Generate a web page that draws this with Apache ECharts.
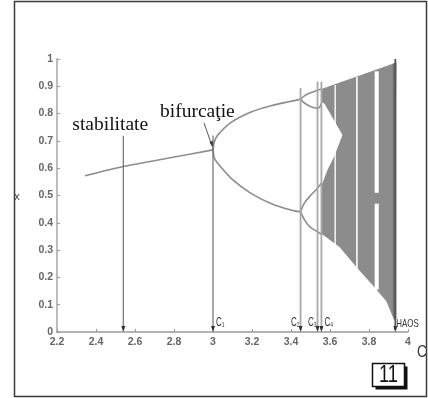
<!DOCTYPE html>
<html>
<head>
<meta charset="utf-8">
<script src="https://cdn.jsdelivr.net/npm/echarts@6/dist/echarts.min.js"></script>
<style>
  html, body { margin: 0; padding: 0; background: #fff; }
  #chart { width: 428px; height: 398px; }
</style>
</head>
<body>
<div id="chart"></div>
<script>
// Bifurcation diagram of the logistic map x -> C·x·(1-x): attractor branches against C.

// Stable fixed point, up to the first doubling
const stableBranch = [[2.343, 0.572], [2.54, 0.606], [2.8, 0.641], [3.0, 0.667]];
// Period-2 branches
const period2Upper = [[3.0, 0.667], [3.007, 0.697], [3.025, 0.722], [3.093, 0.768], [3.195, 0.806], [3.297, 0.829], [3.40, 0.845], [3.449, 0.852]];
const period2Lower = [[3.0, 0.667], [3.007, 0.637], [3.025, 0.617], [3.093, 0.563], [3.195, 0.508], [3.297, 0.471], [3.40, 0.447], [3.449, 0.44]];
// Period-4 loops
const period4A = [[3.449, 0.852], [3.47, 0.866], [3.50, 0.876], [3.53, 0.884], [3.556, 0.89]];
const period4B = [[3.449, 0.852], [3.47, 0.838], [3.50, 0.826], [3.53, 0.82], [3.545, 0.822], [3.556, 0.838]];
const period4C = [[3.449, 0.44], [3.47, 0.474], [3.50, 0.50], [3.53, 0.522], [3.556, 0.545]];
const period4D = [[3.449, 0.44], [3.47, 0.41], [3.50, 0.383], [3.53, 0.37], [3.556, 0.358]];
// Chaotic band: upper envelope then lower envelope
const chaosUpper = [[3.556, 0.89], [3.94, 0.987]];
const chaosLower = [[3.556, 0.358], [3.565, 0.355], [3.65, 0.31], [3.735, 0.238], [3.82, 0.17], [3.889, 0.113], [3.928, 0.045]];
// White gap between the two merging bands
const bandGap = [[3.556, 0.842], [3.571, 0.837], [3.664, 0.722], [3.621, 0.642], [3.587, 0.593], [3.561, 0.545], [3.556, 0.545]];
// Periodic windows inside the chaos: [C from, C to, x from, x to]
const windows = [
  [3.623, 3.630, 0.31, 0.905],
  [3.734, 3.742, 0.19, 0.935],
  [3.829, 3.850, 0.155, 0.47],
  [3.829, 3.850, 0.51, 0.955]
];
// Dense strip at the end of the diagram
const chaosEdge = [[3.922, 0.983], [3.94, 0.987], [3.94, 0.05], [3.928, 0.045], [3.922, 0.08]];
// Vertical markers: [C, top of line]
const pointerMarks = [[2.54, 0.719], [3.0, 0.72]];
const criticalMarks = [[3.449, 0.894], [3.536, 0.917], [3.556, 0.917]];
const chaosMark = [[3.935, 1.0]];
const criticalNames = ['C{s|1}', 'C{s|2}', 'C{s|3}', 'C{s|4}', 'HAOS'];
const xTicks = { min: 2.2, max: 4, step: 0.2 };
const yTicks = { min: 0, max: 1, step: 0.1 };

const chart = echarts.init(document.getElementById('chart'), null, { renderer: 'canvas' });

function branch(points) {
  return {
    type: 'line', data: points, smooth: 0.3, showSymbol: false, silent: true, z: 4,
    lineStyle: { color: '#8d8d8d', width: 1.6 }
  };
}

function polygon(points, fill, z) {
  return {
    type: 'custom', coordinateSystem: 'cartesian2d', silent: true, z: z,
    data: [points[0]],
    renderItem: (params, api) => ({
      type: 'polygon',
      shape: { points: points.map(p => api.coord(p)) },
      style: { fill: fill }
    })
  };
}

function markers(list, color, width, z) {
  return {
    type: 'custom', coordinateSystem: 'cartesian2d', silent: true, z: z,
    data: list,
    renderItem: (params, api) => {
      const c = api.value(0);
      const top = api.coord([c, api.value(1)]);
      const bot = api.coord([c, 0]);
      return {
        type: 'group',
        children: [
          { type: 'line', shape: { x1: top[0], y1: top[1], x2: bot[0], y2: bot[1] - 2 },
            style: { stroke: color, lineWidth: width } },
          { type: 'polygon', shape: { points: [[bot[0] - 2, bot[1] - 6], [bot[0] + 2, bot[1] - 6], [bot[0], bot[1]]] },
            style: { fill: '#333' } }
        ]
      };
    }
  };
}

const chaosRing = chaosUpper.concat(chaosLower.slice().reverse());

chart.setOption({
  animation: false,
  backgroundColor: '#fff',
  grid: { left: 57, right: 20, top: 59, bottom: 66, outerBoundsMode: 'none' },
  xAxis: {
    type: 'value', min: xTicks.min, max: xTicks.max, interval: xTicks.step,
    axisLine: { lineStyle: { color: '#9a9a9a', width: 1.5 } },
    axisTick: { inside: true, length: 3, lineStyle: { color: '#9a9a9a' } },
    axisLabel: { color: '#666', fontSize: 10.5, fontWeight: 'bold', fontFamily: 'Liberation Sans', margin: 5,
                 formatter: v => (Math.round(v * 10) / 10).toString() },
    splitLine: { show: false }
  },
  yAxis: {
    type: 'value', min: yTicks.min, max: yTicks.max, interval: yTicks.step,
    axisLine: { show: true, lineStyle: { color: '#bdbdbd', width: 2 } },
    axisTick: { show: true, inside: true, length: 3, lineStyle: { color: '#9a9a9a' } },
    axisLabel: { color: '#666', fontSize: 10.5, fontWeight: 'bold', fontFamily: 'Liberation Sans', margin: 4,
                 formatter: v => (Math.round(v * 10) / 10).toString() },
    splitLine: { show: false }
  },
  series: [
    polygon(chaosRing, '#8c8c8c', 2),
    polygon(chaosEdge, '#6e6e6e', 3),
    polygon(bandGap, '#ffffff', 3),
    {
      type: 'custom', coordinateSystem: 'cartesian2d', silent: true, z: 3,
      data: windows, encode: { x: [0, 1], y: [2, 3] },
      renderItem: (params, api) => {
        const a = api.coord([api.value(0), api.value(3)]);
        const b = api.coord([api.value(1), api.value(2)]);
        return { type: 'rect', shape: { x: a[0], y: a[1], width: b[0] - a[0], height: b[1] - a[1] },
                 style: { fill: '#ffffff' } };
      }
    },
    branch(stableBranch),
    branch(period2Upper),
    branch(period2Lower),
    branch(period4A),
    branch(period4B),
    branch(period4C),
    branch(period4D),
    markers(pointerMarks, '#707070', 1.2, 5),
    markers(criticalMarks, '#a8a8a8', 1.8, 5),
    markers(chaosMark, '#555555', 1.8, 5)
  ]
});

// Text annotations anchored at data positions
const px = (c, x) => chart.convertToPixel({ gridIndex: 0 }, [c, x]);
const labelAnchors = [
  { at: 3.0, dx: 3, align: 'left' },
  { at: 3.449, dx: -1, align: 'right' },
  { at: 3.536, dx: -1, align: 'right' },
  { at: 3.556, dx: 3, align: 'left' },
  { at: 3.935, dx: 1, align: 'left' }
];
const cRich = { s: { fontSize: 8, fontFamily: 'Liberation Sans', fill: '#333', padding: [6, 0, 0, 0] } };
const graphics = labelAnchors.map((a, i) => {
  const p = px(a.at, 0);
  const isHaos = criticalNames[i] === 'HAOS';
  return {
    type: 'text', x: p[0] + a.dx, y: p[1] - 3, scaleX: isHaos ? 0.72 : 0.62, originX: 0, originY: 0,
    style: {
      text: criticalNames[i], rich: cRich, align: a.align, verticalAlign: 'bottom',
      fontFamily: 'Liberation Sans', fontSize: isHaos ? 11 : 13, fill: '#333'
    }
  };
});

const pStab = px(2.54, 0.719);
const pBif = px(3.0, 0.667);
graphics.push(
  { type: 'rect', shape: { x: 14.5, y: 1.5, width: 412, height: 395 },
    style: { fill: 'none', stroke: '#3a3a3a', lineWidth: 1.5 }, z: 10 },
  { type: 'text', x: 17, y: 197, style: { text: 'x', fontFamily: 'Liberation Sans', fontSize: 11, fill: '#444', align: 'center', verticalAlign: 'middle' }, z: 11 },
  { type: 'text', x: 422, y: 352, scaleX: 0.8, originX: 0, originY: 0,
    style: { text: 'C', fontFamily: 'Liberation Sans', fontSize: 17, fill: '#333', align: 'center', verticalAlign: 'middle' } },
  { type: 'text', x: pStab[0] - 51, y: pStab[1] - 1,
    style: { text: 'stabilitate', fontFamily: 'Liberation Serif', fontSize: 19.5, fill: '#111', align: 'left', verticalAlign: 'bottom' } },
  { type: 'text', x: pBif[0] - 53, y: pBif[1] - 28,
    style: { text: 'bifurcaţie', fontFamily: 'Liberation Serif', fontSize: 19.5, fill: '#111', align: 'left', verticalAlign: 'bottom' } },
  { type: 'line', shape: { x1: pBif[0] - 9, y1: pBif[1] - 27, x2: pBif[0] - 1, y2: pBif[1] - 4 },
    style: { stroke: '#555', lineWidth: 1 } },
  { type: 'polygon', shape: { points: [[pBif[0] - 3.5, pBif[1] - 8], [pBif[0] + 0.2, pBif[1] - 9.2], [pBif[0], pBif[1] - 2]] },
    style: { fill: '#333' } },
  // figure number box with drop shadow
  { type: 'rect', shape: { x: 375.5, y: 366.5, width: 32, height: 23 }, style: { fill: '#111' }, z: 20 },
  { type: 'rect', shape: { x: 372.5, y: 363.5, width: 32, height: 23 }, style: { fill: '#fff', stroke: '#111', lineWidth: 1.5 }, z: 21 },
  { type: 'text', x: 388.5, y: 375.5, scaleX: 0.8, originX: 0, originY: 0, z: 22,
    style: { text: '11', fontFamily: 'Liberation Sans', fontSize: 23, fill: '#111', align: 'center', verticalAlign: 'middle' } }
);
chart.setOption({ graphic: graphics });
</script>
</body>
</html>
